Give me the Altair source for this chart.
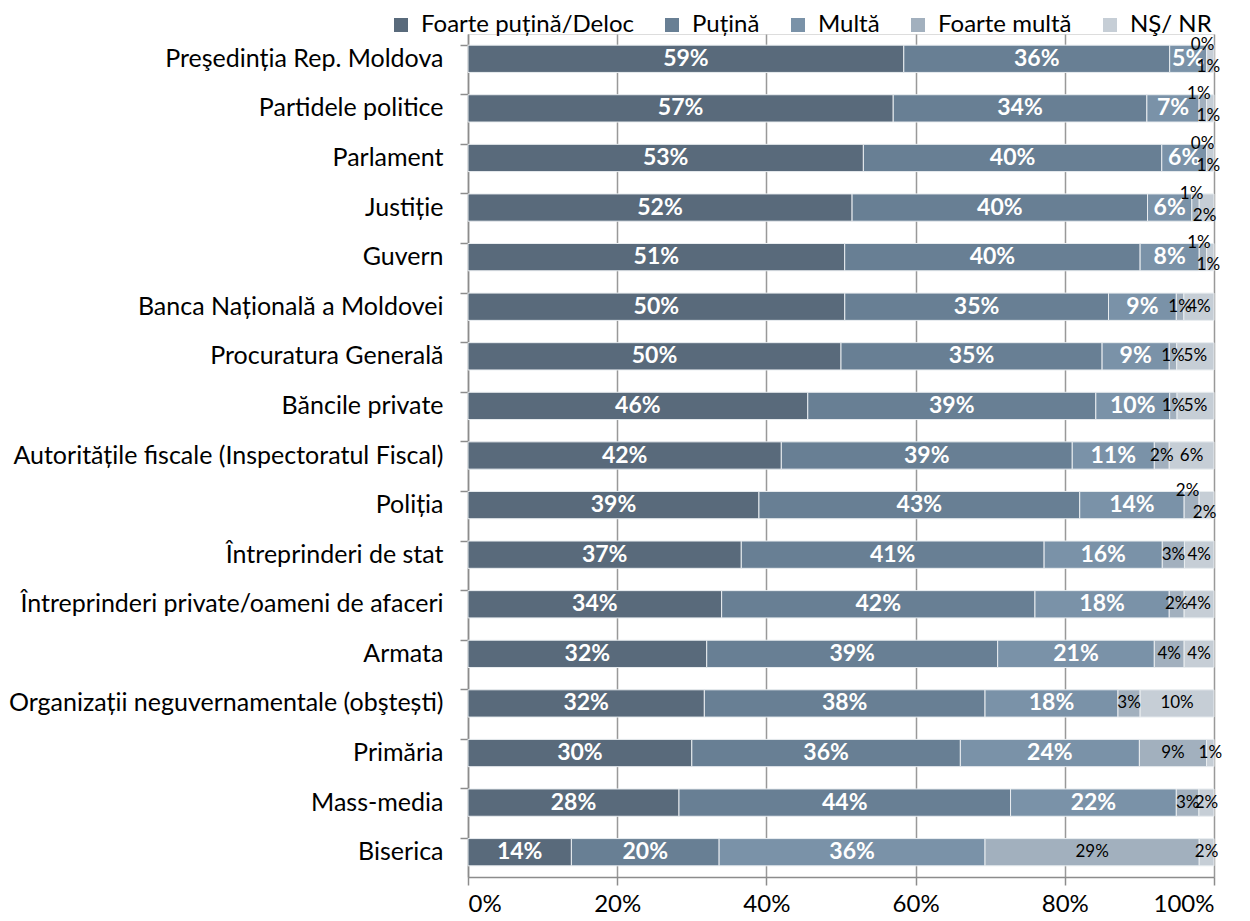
import altair as alt
import pandas as pd

categories = [
    "Preşedinția Rep. Moldova",
    "Partidele politice",
    "Parlament",
    "Justiție",
    "Guvern",
    "Banca Națională a Moldovei",
    "Procuratura Generală",
    "Băncile private",
    "Autoritățile fiscale (Inspectoratul Fiscal)",
    "Poliția",
    "Întreprinderi de stat",
    "Întreprinderi private/oameni de afaceri",
    "Armata",
    "Organizații neguvernamentale (obştești)",
    "Primăria",
    "Mass-media",
    "Biserica",
]
series = ["Foarte puțină/Deloc", "Puțină", "Multă", "Foarte multă", "NŞ/ NR"]
foarte_putina = [59, 57, 53, 52, 51, 50, 50, 46, 42, 39, 37, 34, 32, 32, 30, 28, 14]
putina = [36, 34, 40, 40, 40, 35, 35, 39, 39, 43, 41, 42, 39, 38, 36, 44, 20]
multa = [5, 7, 6, 6, 8, 9, 9, 10, 11, 14, 16, 18, 21, 18, 24, 22, 36]
foarte_multa = [0, 1, 0, 1, 1, 1, 1, 1, 2, 2, 3, 2, 4, 3, 9, 3, 29]
ns_nr = [1, 1, 1, 2, 1, 4, 5, 5, 6, 2, 4, 4, 4, 10, 1, 2, 2]
colors = ["#596a7b", "#687f94", "#7a92a8", "#a2b0be", "#c6ced6"]

cols = [foarte_putina, putina, multa, foarte_multa, ns_nr]
rows = []
for i, c in enumerate(categories):
    small = (foarte_multa[i] + ns_nr[i]) <= 4
    for j, s in enumerate(series):
        rows.append({
            "cat": c, "series": s, "order": j, "value": cols[j][i],
            "label": f"{cols[j][i]}%", "small": small,
        })
df = pd.DataFrame(rows)

FONT = "Lato"
FS = 25

base = alt.Chart(df).transform_stack(
    stack="value", groupby=["cat"], as_=["x0", "x1"], offset="normalize",
    sort=[alt.SortField("order")],
).transform_calculate(xm="(datum.x0 + datum.x1) / 2")

ycat = alt.Y("cat:N", sort=categories, title=None,
             scale=alt.Scale(paddingInner=0.45, paddingOuter=0.225),
             axis=alt.Axis(labelFontSize=FS, labelFont=FONT, labelColor="#000",
                           domainColor="#8c8c8c", domainWidth=1.5, tickColor="#8c8c8c",
                           tickWidth=1.5, tickSize=8, bandPosition=0, labelPadding=17,
                           grid=False, labelLimit=700))

bars = base.mark_bar(stroke="#e9edf0", strokeWidth=1).encode(
    x=alt.X("x0:Q", title=None, scale=alt.Scale(domain=[0, 1], nice=False),
            axis=alt.Axis(values=[0, 0.2, 0.4, 0.6, 0.8, 1], format=".0%",
                          labelFontSize=FS - 1, labelFont=FONT, labelColor="#000",
                          grid=True, gridColor="#999", gridWidth=1.5,
                          domainColor="#8c8c8c", domainWidth=1.5, tickColor="#8c8c8c",
                          tickWidth=1.5, tickSize=8, labelPadding=7)),
    x2="x1:Q",
    y=ycat,
    color=alt.Color("series:N", sort=series,
                    scale=alt.Scale(domain=series, range=colors),
                    legend=alt.Legend(title=None, orient="none", direction="horizontal",
                                      legendX=-79, legendY=-21, symbolType="square",
                                      symbolSize=196, symbolStrokeWidth=0,
                                      labelFontSize=FS - 1, labelFont=FONT, labelColor="#000",
                                      labelLimit=400, columnPadding=26, labelOffset=8)),
    order=alt.Order("order:Q"),
)

white_labels = base.transform_filter("datum.order < 3").mark_text(
    color="white", fontWeight="bold", fontSize=23, font=FONT, baseline="middle"
).encode(x="xm:Q", y=alt.Y("cat:N", sort=categories), text="label:N")

black_inline = base.transform_filter("datum.order >= 3 && !datum.small").mark_text(
    color="#000", fontSize=17, font=FONT, baseline="middle"
).encode(x="xm:Q", y=alt.Y("cat:N", sort=categories), text="label:N")

black_up = base.transform_filter("datum.order == 3 && datum.small").mark_text(
    color="#000", fontSize=17, font=FONT, baseline="middle", dy=-14, dx=-4
).encode(x="xm:Q", y=alt.Y("cat:N", sort=categories), text="label:N")

black_down = base.transform_filter("datum.order == 4 && datum.small").mark_text(
    color="#000", fontSize=17, font=FONT, baseline="middle", dy=8, dx=-2
).encode(x="xm:Q", y=alt.Y("cat:N", sort=categories), text="label:N")

chart = alt.layer(bars, white_labels, black_inline, black_up, black_down).properties(
    width=746, height=843, padding={"top": 5, "left": 0, "right": 0, "bottom": 0}
).configure_view(stroke=None).configure(background="white")

chart.save("out.html", embed_options={"renderer": "svg", "actions": False})
